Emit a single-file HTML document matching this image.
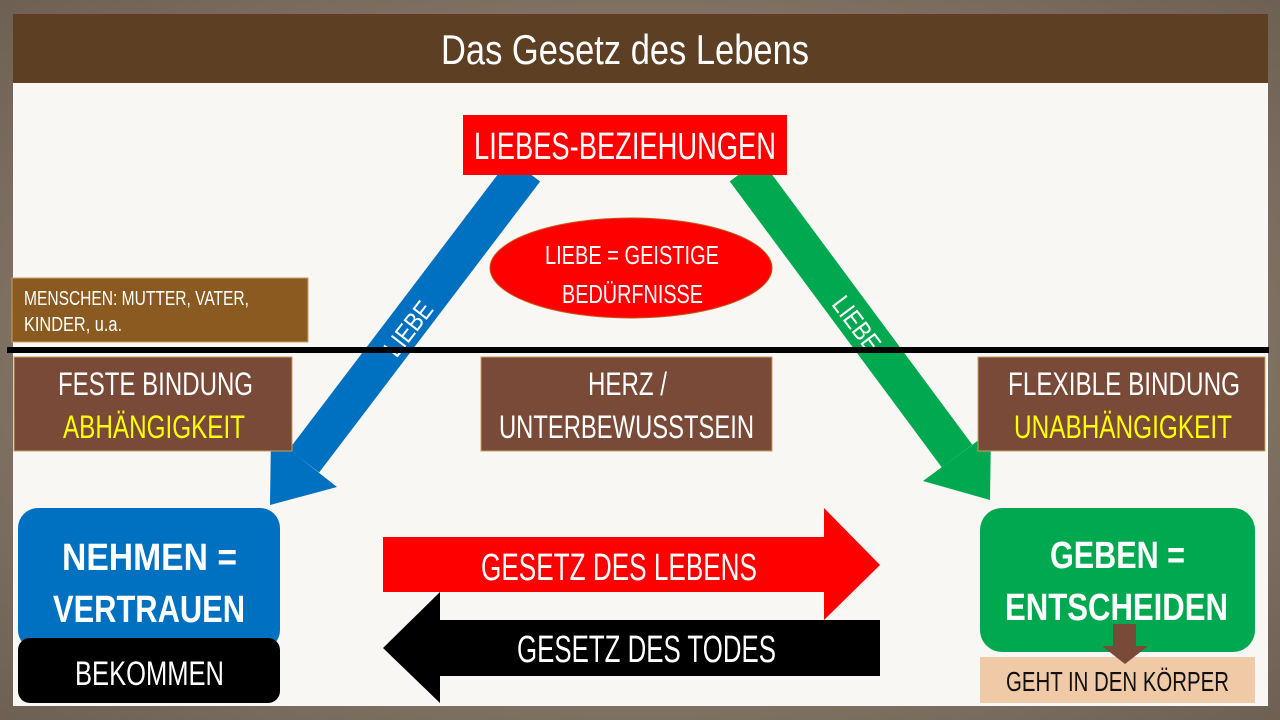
<!DOCTYPE html>
<html><head><meta charset="utf-8"><style>
html,body{margin:0;padding:0;width:1280px;height:720px;overflow:hidden;background:#8d8070}
svg{display:block}
text{font-family:"Liberation Sans",sans-serif}
</style></head><body>
<svg width="1280" height="720" viewBox="0 0 1280 720" xmlns="http://www.w3.org/2000/svg">
<defs>
<radialGradient id="bg" cx="50%" cy="50%" r="70%"><stop offset="0" stop-color="#a39482"/><stop offset="1" stop-color="#6e6154"/></radialGradient>
</defs>
<rect width="1280" height="720" fill="url(#bg)"/>
<rect x="13" y="14" width="1255" height="692" fill="#f8f7f4"/>
<rect x="13" y="14" width="1255" height="69" fill="#5d3f24"/>
<text x="441" y="64" fill="#fff" font-size="42" textLength="368" lengthAdjust="spacingAndGlyphs">Das Gesetz des Lebens</text>

<line x1="525" y1="170" x2="304" y2="461" stroke="#0070c0" stroke-width="38"/>
<polygon points="270,505 337,487 271,435" fill="#0070c0"/>
<line x1="745" y1="170" x2="957" y2="456" stroke="#00a94f" stroke-width="38"/>
<polygon points="990,500 991,431 923,481" fill="#00a94f"/>
<text x="410" y="330" fill="#fff" font-size="26" text-anchor="middle" dominant-baseline="middle" textLength="62" lengthAdjust="spacingAndGlyphs" transform="rotate(-52.3 410 330)">LIEBE</text>
<text x="855" y="325" fill="#fff" font-size="26" text-anchor="middle" dominant-baseline="middle" textLength="62" lengthAdjust="spacingAndGlyphs" transform="rotate(53 855 325)">LIEBE</text>

<rect x="463" y="115" width="324" height="60" fill="#f00"/>
<text x="474" y="159" fill="#fff" font-size="38" textLength="302" lengthAdjust="spacingAndGlyphs">LIEBES-BEZIEHUNGEN</text>

<ellipse cx="631" cy="268" rx="141" ry="50" fill="#f00" stroke="#c55a11" stroke-width="1"/>
<text x="545" y="264" fill="#fff" font-size="26" textLength="174" lengthAdjust="spacingAndGlyphs">LIEBE = GEISTIGE</text>
<text x="562" y="303" fill="#fff" font-size="26" textLength="141" lengthAdjust="spacingAndGlyphs">BEDÜRFNISSE</text>

<rect x="12" y="278" width="296" height="64" fill="#8b5a20" stroke="#c8a060" stroke-width="1"/>
<text x="24" y="305" fill="#fff" font-size="20" textLength="225" lengthAdjust="spacingAndGlyphs">MENSCHEN: MUTTER, VATER,</text>
<text x="24" y="331" fill="#fff" font-size="20" textLength="98" lengthAdjust="spacingAndGlyphs">KINDER, u.a.</text>

<rect x="7" y="347" width="1262" height="6" fill="#000"/>

<rect x="14" y="357" width="278" height="94" fill="#7a4a38" stroke="#c8a060" stroke-width="1"/>
<text x="58" y="395" fill="#fff" font-size="32" textLength="195" lengthAdjust="spacingAndGlyphs">FESTE BINDUNG</text>
<text x="63" y="438" fill="#ff0" font-size="32" textLength="182" lengthAdjust="spacingAndGlyphs">ABHÄNGIGKEIT</text>
<rect x="481" y="357" width="291" height="94" fill="#7a4a38" stroke="#c8a060" stroke-width="1"/>
<text x="588" y="395" fill="#fff" font-size="32" textLength="79" lengthAdjust="spacingAndGlyphs">HERZ /</text>
<text x="499" y="438" fill="#fff" font-size="32" textLength="255" lengthAdjust="spacingAndGlyphs">UNTERBEWUSSTSEIN</text>
<rect x="978" y="357" width="287" height="94" fill="#7a4a38" stroke="#c8a060" stroke-width="1"/>
<text x="1008" y="395" fill="#fff" font-size="32" textLength="232" lengthAdjust="spacingAndGlyphs">FLEXIBLE BINDUNG</text>
<text x="1014" y="438" fill="#ff0" font-size="32" textLength="218" lengthAdjust="spacingAndGlyphs">UNABHÄNGIGKEIT</text>

<rect x="18" y="508" width="262" height="142" rx="20" fill="#0070c0"/>
<text x="62" y="570" fill="#fff" font-size="38" font-weight="bold" textLength="175" lengthAdjust="spacingAndGlyphs">NEHMEN =</text>
<text x="53" y="622" fill="#fff" font-size="38" font-weight="bold" textLength="192" lengthAdjust="spacingAndGlyphs">VERTRAUEN</text>
<rect x="18" y="638" width="262" height="65" rx="12" fill="#000"/>
<text x="75" y="685" fill="#fff" font-size="34" textLength="149" lengthAdjust="spacingAndGlyphs">BEKOMMEN</text>

<rect x="980" y="508" width="275" height="144" rx="22" fill="#00a94f"/>
<text x="1050" y="568" fill="#fff" font-size="38" font-weight="bold" textLength="135" lengthAdjust="spacingAndGlyphs">GEBEN =</text>
<text x="1005" y="620" fill="#fff" font-size="38" font-weight="bold" textLength="223" lengthAdjust="spacingAndGlyphs">ENTSCHEIDEN</text>
<rect x="980" y="657" width="275" height="46" fill="#f0c9a6"/>
<text x="1006" y="691" fill="#111" font-size="28" textLength="223" lengthAdjust="spacingAndGlyphs">GEHT IN DEN KÖRPER</text>
<polygon points="1113,624 1136,624 1136,646 1148,646 1125,664 1102,646 1113,646" fill="#7a4a38"/>

<polygon points="383,537 824,537 824,508 880,565 824,620 824,592 383,592" fill="#f00"/>
<text x="481" y="580" fill="#fff" font-size="38" textLength="276" lengthAdjust="spacingAndGlyphs">GESETZ DES LEBENS</text>
<polygon points="880,620 440,620 440,592 383,648 440,703 440,676 880,676" fill="#000"/>
<text x="517" y="662" fill="#fff" font-size="38" textLength="259" lengthAdjust="spacingAndGlyphs">GESETZ DES TODES</text>
</svg>
</body></html>
